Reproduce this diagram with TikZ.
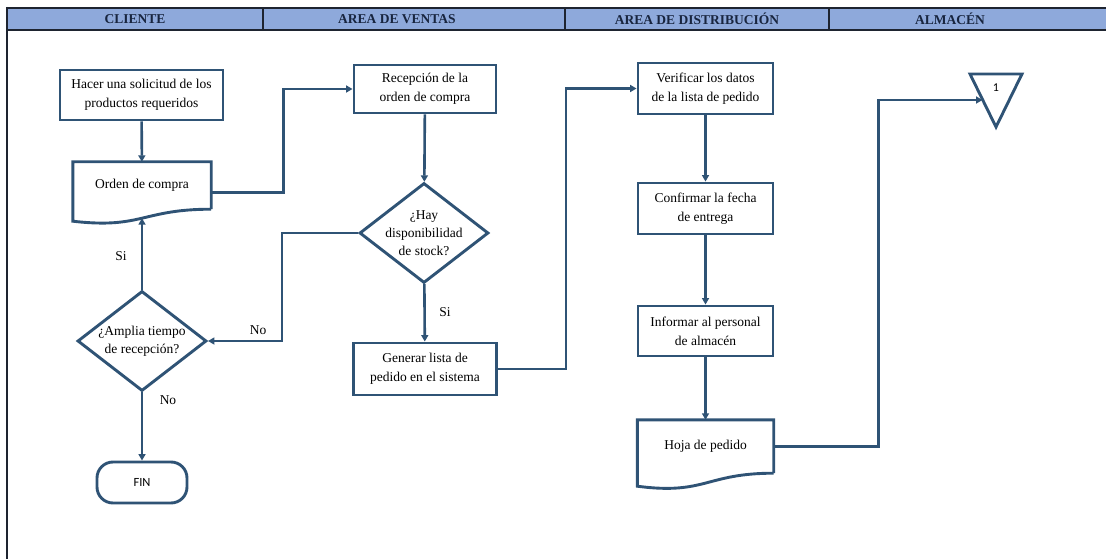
\documentclass[tikz,border=0pt]{standalone}
\usepackage{fontspec}
\setmainfont{Liberation Serif}
\newfontfamily\calibrisub{Carlito}
\usetikzlibrary{shapes.geometric,arrows.meta,calc}
\definecolor{flow}{HTML}{2F5375}
\definecolor{headfill}{HTML}{8EA9DB}
\definecolor{headtxt}{HTML}{18253F}
\definecolor{rule}{HTML}{1E2430}

\begin{document}
\begin{tikzpicture}[x=1pt,y=-1pt,
  every node/.style={font=\fontsize{13.5}{19}\selectfont},
  proc/.style={draw=flow, line width=2.9pt, fill=white, align=center,
    inner sep=0pt, minimum width=#1, minimum height=50pt},
  docnode/.style={draw=none, align=center, inner sep=0pt,
    minimum width=#1, minimum height=47pt},
  docline/.style={draw=flow, line width=2.9pt, line join=miter},
  dia/.style={draw=flow, line width=2.9pt, fill=white, diamond,
    minimum width=129pt, minimum height=100pt, inner sep=0pt},
  dtext/.style={align=center, inner sep=0pt, font=\fontsize{13.5}{18}\selectfont},
  term/.style={draw=flow, line width=2.9pt, rounded corners=16pt,
    minimum width=90pt, minimum height=41pt, inner sep=0pt,
    font=\calibrisub\fontsize{12.5}{14}\selectfont},
  conn/.style={draw=flow, line width=2.6pt,
    -{Triangle[length=6.5pt,width=7pt]}},
  lbl/.style={inner sep=0pt},
  head/.style={font=\bfseries\fontsize{13.5}{15}\selectfont, text=headtxt, inner sep=0pt}
]
\useasboundingbox (0,0) rectangle (1106,559);

% header band with lane titles
\fill[headfill] (7,8) rectangle (1106,30);
\draw[rule, line width=2.2pt] (7,8) -- (1106,8);
\draw[rule, line width=1.8pt] (7,30) -- (1106,30);
\draw[rule, line width=1.4pt] (263,8) -- (263,30) (565,8) -- (565,30) (829,8) -- (829,30);
\draw[rule, line width=2pt] (7,7) -- (7,559);
\node[head] (h1) at (135,19) {CLIENTE};
\node[head] (h2) at (397,19) {AREA DE VENTAS};
\node[head] (h3) at (697,19) {AREA DE DISTRIBUCIÓN};
\node[head] (h4) at (950,19) {ALMACÉN};

% cliente
\node[proc=163pt] (sol) at (141.5,95) {Hacer una solicitud de los\\productos requeridos};
\node[docnode=138pt] (orden) at (142,185.5) {Orden de compra};
\draw[docline] (orden.south east) -- (orden.north east) -- (orden.north west)
  -- ($(orden.south west)+(0,12)$)
  .. controls ($(orden.south)+(0,20)$) and (orden.south) .. (orden.south east);
\coordinate (ordenbot) at ($(orden.south)+(0,9)$);
\node[dia, label={[dtext]center:{¿Amplia tiempo\\de recepción?}}] (d2) at (142,341) {};
\node[term] (fin) at (142,482.5) {FIN};

% area de ventas
\node[proc=142pt, minimum height=48pt] (rec) at (425,89) {Recepción de la\\orden de compra};
\node[dia, label={[dtext]center:{¿Hay\\disponibilidad\\de stock?}}] (d1) at (424,233) {};
\node[proc=143pt, minimum height=52pt] (gen) at (425,369) {Generar lista de\\pedido en el sistema};

% area de distribucion
\node[proc=135pt, minimum height=51pt] (ver) at (705.5,88.5) {Verificar los datos\\de la lista de pedido};
\node[proc=135pt, minimum height=51pt] (conf) at (705.5,208.5) {Confirmar la fecha\\de entrega};
\node[proc=135pt] (inf) at (705.5,331) {Informar al personal\\de almacén};
\node[docnode=136pt, minimum height=53pt] (hoja) at (705.5,446.5) {Hoja de pedido};
\draw[docline] (hoja.south east) -- (hoja.north east) -- (hoja.north west)
  -- ($(hoja.south west)+(0,13)$)
  .. controls ($(hoja.south)+(0,22)$) and (hoja.south) .. (hoja.south east);

% almacen: connector triangle
\coordinate (tl) at (970,74);
\coordinate (tr) at (1022,74);
\coordinate (tb) at (996,127);
\draw[flow, line width=2.9pt, line join=miter] (tl) -- (tr) -- (tb) -- cycle;
\node[font=\calibrisub\fontsize{12}{14}\selectfont, inner sep=0pt] (one) at (996,88) {1};
\coordinate (trin) at (982.5,100);

% connectors
\draw[conn] (sol) -- (orden);
\draw[conn] ([yshift=-7pt]orden.east) -- ++(72,0) |- (rec.west);
\draw[conn] (rec) -- (d1);
\draw[conn] (d1) -- (gen);
\draw[conn] (d1.west) -- ++(-76,0) |- (d2.east);
\draw[conn] (d2) -- (ordenbot);
\draw[conn] (d2) -- (fin);
\draw[conn] (gen.east) -- ++(68,0) |- (ver.west);
\draw[conn] (ver) -- (conf);
\draw[conn] (conf) -- (inf);
\draw[conn] (inf) -- (hoja);
\draw[conn] (hoja.east) -- ++(104.5,0) |- (trin);

% branch labels
\node[lbl] (si1) at (445,312) {Si};
\node[lbl] (si2) at (121,256) {Si};
\node[lbl] (no1) at (258,330) {No};
\node[lbl] (no2) at (168,400) {No};
\end{tikzpicture}
\end{document}
